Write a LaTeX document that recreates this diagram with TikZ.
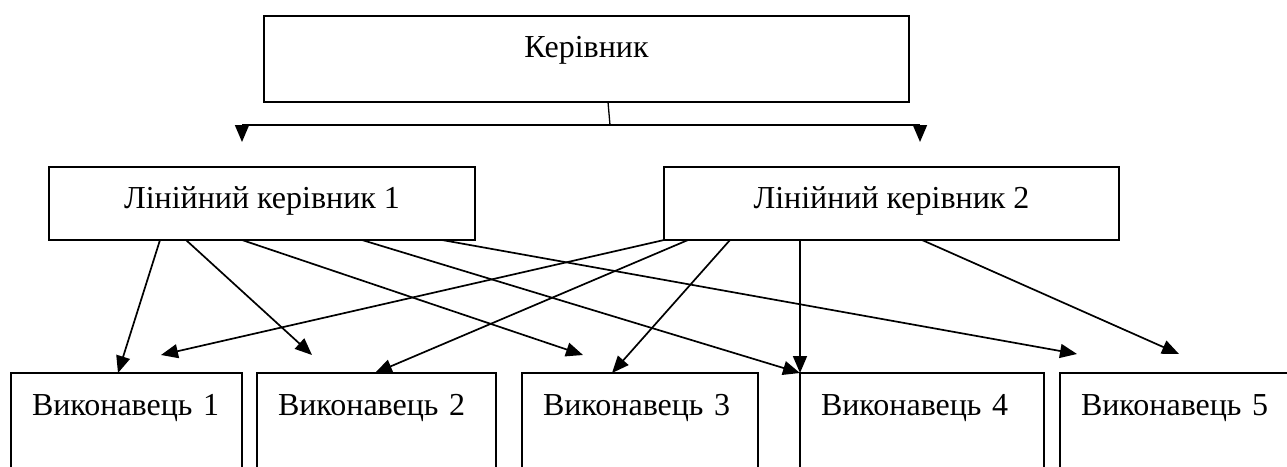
\documentclass[tikz,border=0pt]{standalone}
\usepackage{fontspec}
\setmainfont{Liberation Serif}
\usetikzlibrary{arrows.meta,calc}
\begin{document}
\begin{tikzpicture}[x=1pt,y=-1pt,
  box/.style={draw, line width=1.8pt, inner sep=0pt, outer sep=0pt, font=\fontsize{32}{38}\selectfont},
  topbox/.style={box, anchor=north west, minimum width=645pt, text height=41pt, text depth=45pt},
  linbox/.style={box, anchor=north west, text height=41pt, text depth=32pt},
  workbox/.style={box, anchor=north west, text height=42pt, text depth=72pt, inner xsep=21pt, align=left},
  link/.style={line width=1.7pt, -{Triangle[length=17pt,width=14pt]}},
  bar/.style={line width=1.8pt},
]
\useasboundingbox (0,0) rectangle (1287,466);
\fill[white] (0,0) rectangle (1287,466);
\clip (0,0) rectangle (1287,466);

% nodes
\node[topbox] (boss) at (264,16) {Керівник};
\node[linbox, minimum width=426pt] (lin1) at (49,167) {Лінійний керівник 1};
\node[linbox, minimum width=455pt] (lin2) at (664,167) {Лінійний керівник 2};
\node[workbox, text width=189pt] (w1) at (11,373) {Виконавець 1};
\node[workbox, text width=197pt] (w2) at (257,373) {Виконавець 2};
\node[workbox, text width=194pt] (w3) at (522,373) {Виконавець 3};
\node[workbox, text width=202pt] (w4) at (800,373) {Виконавець 4};
\node[workbox, text width=200pt] (w5) at (1060,373) {Виконавець 5};

% top branching
\coordinate (stemtop) at ($(boss.south west)+(344,0)$);
\coordinate (jn) at (610,125);
\coordinate (bl) at (242,125);
\coordinate (br) at (920,125);
\coordinate (tl) at (242,142);
\coordinate (tr) at (920,142);
\draw[line width=1.3pt] (stemtop) -- (jn);
\draw[bar] (bl) -- (br);
\draw[link] (bl) -- (tl);
\draw[link] (br) -- (tr);

% free arrow ends
\coordinate (f1) at (312,355);
\coordinate (f2) at (583,355);
\coordinate (f3) at (1077,354);
\coordinate (f4) at (161,355);
\coordinate (f5) at (1179,354);

% from Лінійний керівник 1
\draw[link] ($(lin1.south west)+(111,0)$) -- ($(w1.north west)+(107,0)$);
\draw[link] ($(lin1.south west)+(137,0)$) -- (f1);
\draw[link] ($(lin1.south west)+(193,0)$) -- (f2);
\draw[link] ($(lin1.south west)+(313,0)$) -- (w4.north west);
\draw[link] ($(lin1.south west)+(393,0)$) -- (f3);

% from Лінійний керівник 2
\draw[link] (lin2.south west) -- (f4);
\draw[link] ($(lin2.south west)+(24,0)$) -- ($(w2.north west)+(118,0)$);
\draw[link] ($(lin2.south west)+(66,0)$) -- ($(w3.north west)+(90,0)$);
\draw[link] ($(lin2.south west)+(136,0)$) -- (w4.north west);
\draw[link] ($(lin2.south west)+(258,0)$) -- (f5);
\end{tikzpicture}
\end{document}
